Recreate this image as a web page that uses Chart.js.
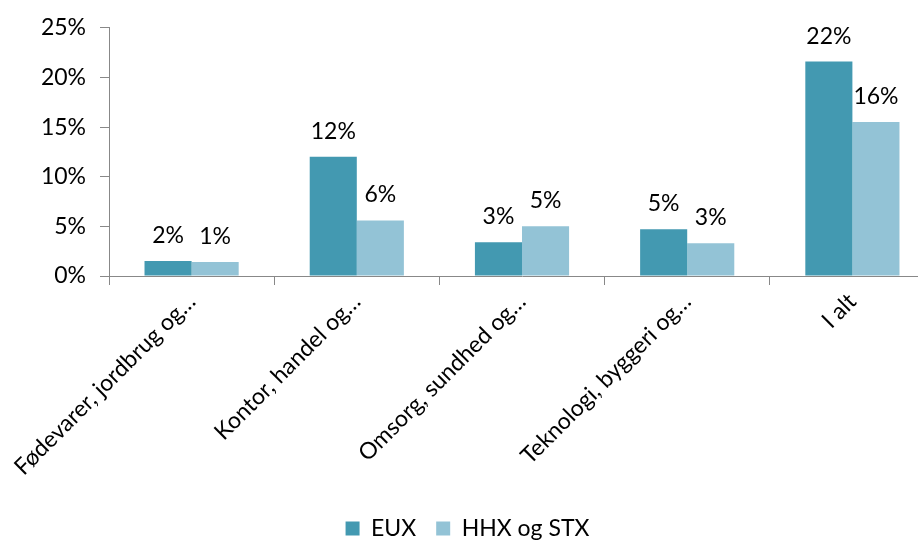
<!DOCTYPE html>
<html>
<head>
<meta charset="utf-8">
<script src="https://cdn.jsdelivr.net/npm/chart.js@4/dist/chart.umd.min.js"></script>
<style>
  html,body{margin:0;padding:0;background:#fff;overflow:hidden;}
  #wrap{width:935px;height:550px;}
</style>
</head>
<body>
<div id="wrap"><canvas id="c" width="935" height="550"></canvas></div>
<script>
const categories = ['Fødevarer, jordbrug og…', 'Kontor, handel og…', 'Omsorg, sundhed og…', 'Teknologi, byggeri og…', 'I alt'];
const eux = [1.5, 12.0, 3.4, 4.7, 21.6];
const hhxStx = [1.4, 5.6, 5.0, 3.3, 15.5];
const yTicks = [0, 5, 10, 15, 20, 25];

const FONT = 'Lato';

// value labels over the bars
const barLabels = {
  id: 'barLabels',
  afterDatasetsDraw(chart) {
    const ctx = chart.ctx;
    ctx.save();
    ctx.font = '23px ' + FONT;
    ctx.fillStyle = '#000';
    ctx.textAlign = 'center';
    ctx.textBaseline = 'alphabetic';
    chart.data.datasets.forEach((ds, i) => {
      chart.getDatasetMeta(i).data.forEach((bar, j) => {
        ctx.fillText(Math.round(ds.data[j]) + '%', bar.x, bar.y - 18);
      });
    });
    ctx.restore();
  }
};

new Chart(document.getElementById('c'), {
  type: 'bar',
  data: {
    labels: categories,
    datasets: [
      { label: 'EUX', data: eux, backgroundColor: '#4399b1', borderWidth: 0 },
      { label: 'HHX og STX', data: hhxStx, backgroundColor: '#93c3d6', borderWidth: 0 }
    ]
  },
  options: {
    responsive: false,
    animation: false,
    datasets: { bar: { categoryPercentage: 0.57, barPercentage: 1 } },
    layout: { padding: { top: 12, left: 0, right: 0, bottom: 0 } },
    plugins: {
      tooltip: { enabled: false },
      legend: {
        position: 'bottom',
        labels: {
          font: { family: FONT, size: 23 },
          color: '#000',
          boxWidth: 14,
          boxHeight: 14,
          padding: 20
        }
      }
    },
    scales: {
      x: {
        grid: { display: true, drawOnChartArea: false, color: '#888', tickLength: 9, offset: true },
        border: { color: '#888' },
        ticks: {
          font: { family: FONT, size: 23 },
          color: '#000',
          maxRotation: 45,
          minRotation: 45,
          autoSkip: false
        },
        afterFit(s) { s.height = 221; }
      },
      y: {
        min: 0,
        max: 25,
        afterBuildTicks(s) { s.ticks = yTicks.map(v => ({ value: v })); },
        grid: { display: true, drawOnChartArea: false, color: '#888', tickLength: 9 },
        border: { color: '#888' },
        ticks: {
          font: { family: FONT, size: 23 },
          color: '#000',
          padding: 14,
          callback: v => v + '%'
        },
        afterFit(s) { s.width = 109; }
      }
    }
  },
  plugins: [barLabels]
});
</script>
</body>
</html>
